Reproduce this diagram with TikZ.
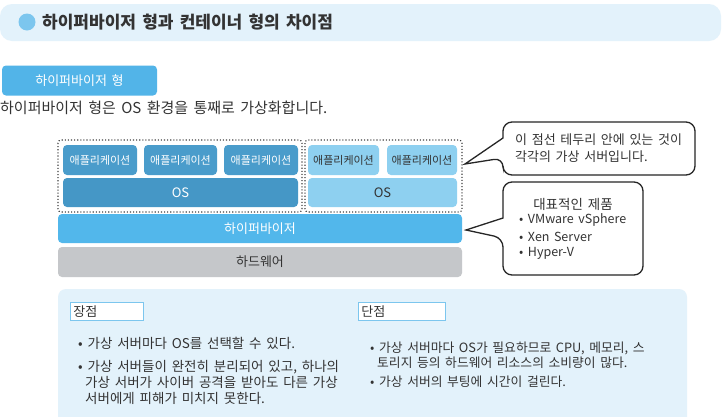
\documentclass[tikz,border=0pt]{standalone}
\usepackage{fontspec}
\setmainfont{Noto Sans CJK KR}[WordSpace=1.6]
\begin{document}
\begin{tikzpicture}[x=1pt,y=-1pt,
  blk/.style={rounded corners=4pt, inner sep=0pt, font=\fontsize{13}{15}\selectfont},
  darkapp/.style={blk, fill=appdark, text=white, font=\fontsize{11}{13}\selectfont},
  lightapp/.style={blk, fill=applight, text=txtgray, font=\fontsize{11}{13}\selectfont},
  vmline/.style={draw=black!75, line width=1.1pt, dotted},
  callout/.style={draw=black!85, line width=1.3pt, fill=white, rounded corners=9pt},
  lbl/.style={draw=labelblue, line width=0.8pt, fill=white, inner sep=0pt, minimum height=18pt, text width=73pt, align=left, font=\fontsize{13}{15}\selectfont, text=txtgray},
  body/.style={anchor=west, inner sep=0pt, font=\fontsize{13.5}{15}\selectfont, text=txtgray},
  cbody/.style={body, font=\fontsize{12.8}{15}\selectfont},
  ctext/.style={anchor=west, inner sep=0pt, text=txtgray}
]
\definecolor{titlebg}{HTML}{E3F2FB}
\definecolor{dotblue}{HTML}{7CC6EE}
\definecolor{tagblue}{HTML}{52B4E8}
\definecolor{appdark}{HTML}{4A9CCB}
\definecolor{osdark}{HTML}{4597C6}
\definecolor{applight}{HTML}{8ED0F0}
\definecolor{hyper}{HTML}{52B7EB}
\definecolor{hw}{HTML}{C5C7CA}
\definecolor{txtgray}{HTML}{333333}
\definecolor{panel}{HTML}{E3F2FB}
\definecolor{labelblue}{HTML}{7CC6EE}
\useasboundingbox (0,0) rectangle (726,416);
\fill[white] (0,0) rectangle (726,416);

% title bar
\fill[titlebg, rounded corners=12pt] (0,4) rectangle (721,41);
\fill[dotblue] (27,22) circle (8.5pt);
\node[anchor=west, inner sep=0pt, font=\fontsize{17}{19}\selectfont\bfseries, text=txtgray] (title) at (42,22) {하이퍼바이저 형과 컨테이너 형의 차이점};

% tag
\node[fill=tagblue, rounded corners=4pt, minimum width=155pt, minimum height=30pt, inner sep=0pt, text=white, font=\fontsize{13}{15}\selectfont] (tag) at (79.5,80.5) {하이퍼바이저 형};
\node[anchor=west, inner sep=0pt, font=\fontsize{15}{17}\selectfont, text=txtgray] (sub) at (0,108) {하이퍼바이저 형은 OS 환경을 통째로 가상화합니다.};

% stack
\node[darkapp, minimum width=74pt, minimum height=30pt] (a1) at (100,160) {애플리케이션};
\node[darkapp, minimum width=73pt, minimum height=30pt] (a2) at (180.5,160) {애플리케이션};
\node[darkapp, minimum width=74pt, minimum height=30pt] (a3) at (261,160) {애플리케이션};
\node[blk, fill=osdark, text=white, minimum width=235pt, minimum height=29pt] (os1) at (180.5,192.5) {OS};
\node[lightapp, minimum width=71pt, minimum height=30pt] (a4) at (343.5,160) {애플리케이션};
\node[lightapp, minimum width=70pt, minimum height=30pt] (a5) at (422,160) {애플리케이션};
\node[blk, fill=applight, text=txtgray, minimum width=149pt, minimum height=29pt] (os2) at (382.5,192.5) {OS};
\draw[vmline, rounded corners=3pt] (58,140) rectangle (302,212);
\draw[vmline, rounded corners=3pt] (305,140) rectangle (462,212);
\node[blk, fill=hyper, text=white, minimum width=404pt, minimum height=29pt] (hv) at (260,228.5) {하이퍼바이저};
\node[blk, fill=hw, text=txtgray, minimum width=404pt, minimum height=30pt] (hwn) at (260,262) {하드웨어};

% callout 1
\coordinate (t1) at (465,164);
\draw[callout] (503,138) -- (503,122) -- (695,122) -- (695,175) -- (503,175) -- (503,158) [sharp corners]-- (t1) -- cycle;
\node[ctext, font=\fontsize{13}{15}\selectfont] (c1a) at (515,140) {이 점선 테두리 안에 있는 것이};
\node[ctext, font=\fontsize{13}{15}\selectfont] (c1b) at (515,157) {각각의 가상 서버입니다.};

% callout 2
\coordinate (t2) at (466,230);
\draw[callout] (503,218) -- (503,182) -- (643,182) -- (643,275) -- (503,275) -- (503,238) [sharp corners]-- (t2) -- cycle;
\node[inner sep=0pt, font=\fontsize{13.5}{15}\selectfont, text=txtgray] (c2h) at (573,204) {대표적인 제품};
\node[ctext, font=\fontsize{12.5}{14}\selectfont] (c2a) at (519,220) {• VMware vSphere};
\node[ctext, font=\fontsize{12.5}{14}\selectfont] (c2b) at (519,237) {• Xen Server};
\node[ctext, font=\fontsize{12.5}{14}\selectfont] (c2c) at (519,253) {• Hyper-V};

% bottom panel
\fill[panel, rounded corners=8pt] (58,289) rectangle (687,430);
\node[lbl, anchor=north west] (pro) at (70,302) {\hspace{3pt}장점};
\node[lbl, text width=87pt, anchor=north west] (con) at (358,302) {\hspace{3pt}단점};

\node[body] (p1) at (78,343) {• 가상 서버마다 OS를 선택할 수 있다.};
\node[body] (p2) at (78,367) {• 가상 서버들이 완전히 분리되어 있고, 하나의};
\node[body] (p3) at (85,382.5) {가상 서버가 사이버 공격을 받아도 다른 가상};
\node[body] (p4) at (85,398) {서버에게 피해가 미치지 못한다.};

\node[cbody] (n1) at (370,348) {• 가상 서버마다 OS가 필요하므로 CPU, 메모리, 스};
\node[cbody] (n2) at (377,363) {토리지 등의 하드웨어 리소스의 소비량이 많다.};
\node[cbody] (n3) at (370,382) {• 가상 서버의 부팅에 시간이 걸린다.};
\end{tikzpicture}
\end{document}
